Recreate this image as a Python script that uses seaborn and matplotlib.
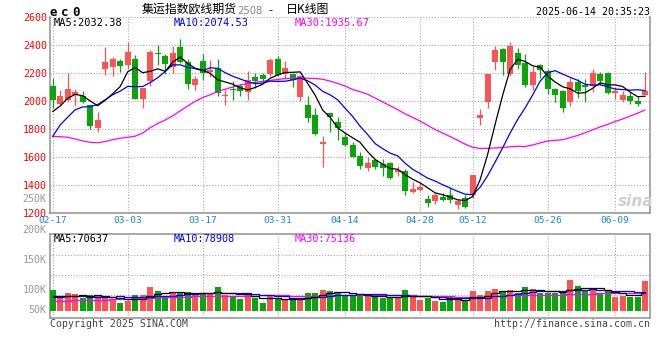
import numpy as np
import pandas as pd
import matplotlib
matplotlib.use("Agg")
import matplotlib.pyplot as plt
import seaborn as sns

# ---------------- data ----------------
opens = [2107, 1978, 2007, 2043, 2036, 1971, 1810, 2231, 2245, 2286,
         2260, 2300, 2013, 2145, 2343, 2319, 2245, 2386, 2279, 2117,
         2286, 2210, 2233, 2033, 2086, 2105, 2062, 2171, 2186, 2193,
         2300, 2193, 2193, 2031, 1971, 1900, 1695, 1914, 1848, 1743,
         1686, 1607, 1524, 1579, 1552, 1555, 1495, 1500, 1352, 1369,
         1300, 1288, 1317, 1329, 1260, 1307, 1329, 1876, 1995, 2281,
         2371, 2195, 2343, 2274, 2117, 2255, 2217, 2083, 2071, 1995,
         2136, 2107, 2107, 2190, 2200, 2055, 2010, 2036, 2000, 2043]
highs = [2162, 2079, 2200, 2086, 2074, 1979, 1924, 2386, 2317, 2302,
         2424, 2329, 2095, 2367, 2400, 2336, 2395, 2443, 2300, 2176,
         2336, 2293, 2300, 2086, 2143, 2121, 2214, 2200, 2200, 2305,
         2324, 2286, 2193, 2181, 2033, 1952, 1752, 1914, 1890, 1779,
         1705, 1636, 1600, 1579, 1586, 1567, 1536, 1514, 1424, 1417,
         1331, 1348, 1345, 1383, 1305, 1331, 1471, 1943, 2193, 2395,
         2381, 2419, 2379, 2336, 2252, 2262, 2229, 2093, 2079, 2164,
         2157, 2157, 2229, 2210, 2205, 2098, 2071, 2062, 2036, 2210]
lows = [1948, 1962, 1995, 1962, 1986, 1800, 1781, 2188, 2181, 2207,
        2229, 2014, 1953, 2105, 2260, 2195, 2200, 2271, 2086, 2079,
        2152, 2174, 2038, 1974, 2010, 2038, 2010, 2093, 2129, 2181,
        2181, 2162, 2102, 2000, 1852, 1760, 1531, 1781, 1724, 1681,
        1598, 1519, 1505, 1514, 1467, 1448, 1467, 1331, 1345, 1357,
        1243, 1267, 1288, 1276, 1229, 1236, 1307, 1831, 1952, 2224,
        2188, 2180, 2229, 2102, 2079, 2164, 2052, 1990, 1924, 1967,
        2024, 1990, 2067, 2114, 2050, 2014, 1990, 1981, 1967, 2043]
closes = [2010, 2036, 2086, 2067, 1990, 1824, 1867, 2279, 2300, 2248,
          2350, 2017, 2095, 2352, 2333, 2267, 2343, 2276, 2124, 2157,
          2202, 2224, 2055, 2043, 2079, 2071, 2148, 2143, 2160, 2293,
          2186, 2236, 2150, 2176, 1881, 1767, 1705, 1888, 1807, 1690,
          1602, 1538, 1557, 1531, 1521, 1450, 1512, 1360, 1374, 1388,
          1274, 1331, 1295, 1293, 1288, 1248, 1471, 1900, 2193, 2364,
          2281, 2390, 2260, 2117, 2210, 2224, 2083, 2045, 1948, 2136,
          2069, 2102, 2200, 2145, 2060, 2071, 2043, 2002, 1981, 2074]
volume_k = [97.7, 62, 84, 79, 60, 74, 68, 68, 50, 39,
            46.5, 74, 74, 113, 93, 70, 84, 90, 90, 74,
            85, 79, 113, 74, 70, 56, 84, 59, 39, 74,
            56, 50, 51, 54, 84, 84, 98, 93, 88, 73,
            73, 70, 73, 68, 60, 60, 66.7, 98, 74, 51,
            62, 46.5, 42, 67, 50, 46.5, 93, 74, 93, 104,
            93, 98, 85, 112, 104, 85, 85, 85, 85, 144,
            116, 96, 98, 84, 93, 67, 71, 67, 67, 140]

# moving-average values before the full window is available
ma5_head = [1925, 1965, 2020, 2048]
ma10_head = [1748, 1830, 1885, 1938, 1958, 1960, 1975, 2010, 2045]
ma30_head = [1748, 1746, 1742, 1730, 1716, 1706, 1703, 1712, 1725, 1735,
             1742, 1750, 1772, 1810, 1840, 1865, 1895, 1930, 1965, 1998,
             2025, 2045, 2068, 2085, 2100, 2115, 2126, 2134, 2141]
vol_ma5_head = [71, 71, 72, 72]
vol_ma10_head = [67, 67, 71, 71, 71, 66, 66, 66, 66]
vol_ma30_head = [47, 48, 48, 49, 50, 51, 52, 53, 55, 56,
                 57, 59, 61, 62, 63, 64, 65, 66, 67, 68,
                 69, 69, 70, 70, 71, 71, 72, 72, 73]

tick_pos = [0, 10, 20, 30, 39, 49, 56, 66, 75]
tick_labels = ["02-17", "03-03", "03-17", "03-31", "04-14",
               "04-28", "05-12", "05-26", "06-09"]
price_ticks = [1200, 1400, 1600, 1800, 2000, 2200, 2400, 2600]

# ---------------- frame ----------------
df = pd.DataFrame({"open": opens, "high": highs, "low": lows,
                   "close": closes, "vol": np.array(volume_k) * 1000})
df["i"] = np.arange(len(df))


def moving(series, n, head):
    m = series.rolling(n).mean()
    m.iloc[:n - 1] = head
    return m


df["ma5"] = moving(df["close"], 5, ma5_head)
df["ma10"] = moving(df["close"], 10, ma10_head)
df["ma30"] = moving(df["close"], 30, ma30_head)
df["vma5"] = moving(df["vol"], 5, np.array(vol_ma5_head) * 1000)
df["vma10"] = moving(df["vol"], 10, np.array(vol_ma10_head) * 1000)
df["vma30"] = moving(df["vol"], 30, np.array(vol_ma30_head) * 1000)

RED = "#fa5555"
GREEN = "#0aa50a"
up = df["close"] >= df["open"]
colors = np.where(up, RED, GREEN)

sns.set_theme(style="white")
plt.rcParams["font.family"] = ["DejaVu Sans Mono", "Noto Sans CJK SC"]

W, H = 660, 360
fig = plt.figure(figsize=(6.6, 3.6), dpi=100)
fig.patch.set_facecolor("white")


def fx(px):
    return px / W


def fy(py):
    return 1 - py / H


ax = fig.add_axes([fx(50), fy(213.3), 600 / W, 196.4 / H])
axv = fig.add_axes([fx(50), fy(318), 600 / W, 84 / H])

GRID = "#aaaaaa"
DOT = (0, (1, 1.6))
SPINE = "#999999"

# ---------------- price panel ----------------
ax.vlines(df["i"], df["low"], df["high"], colors=colors, lw=0.9, zorder=2)
body_bottom = np.minimum(df["open"], df["close"])
body_h = np.maximum((df["close"] - df["open"]).abs(), 9)
ax.bar(df["i"], body_h, bottom=body_bottom, width=0.8, color=colors,
       linewidth=0, zorder=3)

sns.lineplot(data=df, x="i", y="ma30", ax=ax, color="#ff00ff", lw=0.9, zorder=4)
sns.lineplot(data=df, x="i", y="ma10", ax=ax, color="#0000ff", lw=0.9, zorder=5)
sns.lineplot(data=df, x="i", y="ma5", ax=ax, color="black", lw=0.9, zorder=6)

ax.set_xlim(-0.36, 79.65)
ax.set_ylim(1200, 2600)
ax.set_yticks(price_ticks)
ax.set_yticklabels([str(p) for p in price_ticks], color="#ff0000", fontsize=7.2)
ax.set_xticks(tick_pos)
ax.set_xticklabels(tick_labels, color="#1a86d8", fontsize=6.8)
ax.tick_params(axis="both", length=0, pad=2.3)
ax.grid(True, color=GRID, linestyle=DOT, lw=0.8)
ax.set_axisbelow(True)
ax.set_xlabel("")
ax.set_ylabel("")
for s in ["left", "right", "bottom"]:
    ax.spines[s].set_color(SPINE)
    ax.spines[s].set_linewidth(1.2)
ax.spines["top"].set_visible(False)
ax.set_facecolor("white")

# ---------------- volume panel ----------------
axv.bar(df["i"], df["vol"], width=0.8, color=colors, linewidth=0, zorder=3)
sns.lineplot(data=df, x="i", y="vma30", ax=axv, color="#ff00ff", lw=0.9,
             drawstyle="steps-mid", zorder=4)
sns.lineplot(data=df, x="i", y="vma10", ax=axv, color="#0000ff", lw=0.9,
             drawstyle="steps-mid", zorder=5)
sns.lineplot(data=df, x="i", y="vma5", ax=axv, color="black", lw=0.9,
             drawstyle="steps-mid", zorder=6)
px_per_unit = 0.215 / 1000  # pixels per share
axv.set_xlim(-0.36, 79.65)
axv.set_ylim(-7 / px_per_unit, 77 / px_per_unit)
axv.set_xticks(tick_pos)
axv.set_xticklabels([])
axv.set_yticks([])
axv.tick_params(length=0)
axv.grid(True, axis="x", color=GRID, linestyle=DOT, lw=0.8)
for gy in (255, 275, 295):
    axv.axhline((311 - gy) / px_per_unit, color=GRID, linestyle=DOT, lw=0.8, zorder=1)
axv.set_axisbelow(True)
axv.set_xlabel("")
axv.set_ylabel("")
for s in ["left", "right", "bottom", "top"]:
    axv.spines[s].set_color(SPINE)
    axv.spines[s].set_linewidth(1.2)

# volume axis labels (drawn where the source places them)
for lab, py in [("250K", 199), ("200K", 230), ("150K", 260), ("100K", 290), ("50K", 310)]:
    fig.text(fx(46.5), fy(py), lab, ha="right", va="center", color="#999999",
             fontsize=7.2)

# ---------------- texts ----------------
for ch, cx in [("e", 53.5), ("c", 64.5), ("0", 76)]:
    fig.text(fx(cx), fy(12), ch, ha="center", va="center", fontsize=9,
             fontweight="bold", color="black")
fig.text(fx(141.5), fy(9.5), "集运指数欧线期货", ha="left", va="center",
         fontsize=8.6, family=["Noto Sans CJK SC"], color="black")
fig.text(fx(237), fy(10.5), "2508", ha="left", va="center",
         fontsize=7.2, family=["DejaVu Sans"], color="#888888")
fig.text(fx(268), fy(10), "-", ha="left", va="center",
         fontsize=8, family=["DejaVu Sans"], color="black")
fig.text(fx(286), fy(9.5), "日K线图", ha="left", va="center",
         fontsize=8.6, family=["Noto Sans CJK SC"], color="black")
fig.text(fx(649.5), fy(12), "2025-06-14 20:35:23", ha="right", va="center",
         fontsize=7.2, color="black")

fig.text(fx(54), fy(23.3), "MA5:2032.38", ha="left", va="center", fontsize=7.5, color="black")
fig.text(fx(174), fy(23.3), "MA10:2074.53", ha="left", va="center", fontsize=7.5, color="#0000ff")
fig.text(fx(295), fy(23.3), "MA30:1935.67", ha="left", va="center", fontsize=7.5, color="#ff00ff")

fig.text(fx(54), fy(239.5), "MA5:70637", ha="left", va="center", fontsize=7.3, color="black")
fig.text(fx(174), fy(239.5), "MA10:78908", ha="left", va="center", fontsize=7.3, color="#0000ff")
fig.text(fx(295), fy(239.5), "MA30:75136", ha="left", va="center", fontsize=7.3, color="#ff00ff")

fig.text(fx(50), fy(324), "Copyright 2025 SINA.COM", ha="left", va="center",
         fontsize=7.1, color="#444444")
fig.text(fx(650), fy(324), "http://finance.sina.com.cn", ha="right", va="center",
         fontsize=7.1, color="#444444")

fig.text(fx(636), fy(202), "sina", ha="center", va="center", fontsize=11,
         family=["DejaVu Sans"], fontweight="bold", fontstyle="italic", color="#cfcfcf")

fig.savefig("out.png", dpi=100, facecolor="white")
